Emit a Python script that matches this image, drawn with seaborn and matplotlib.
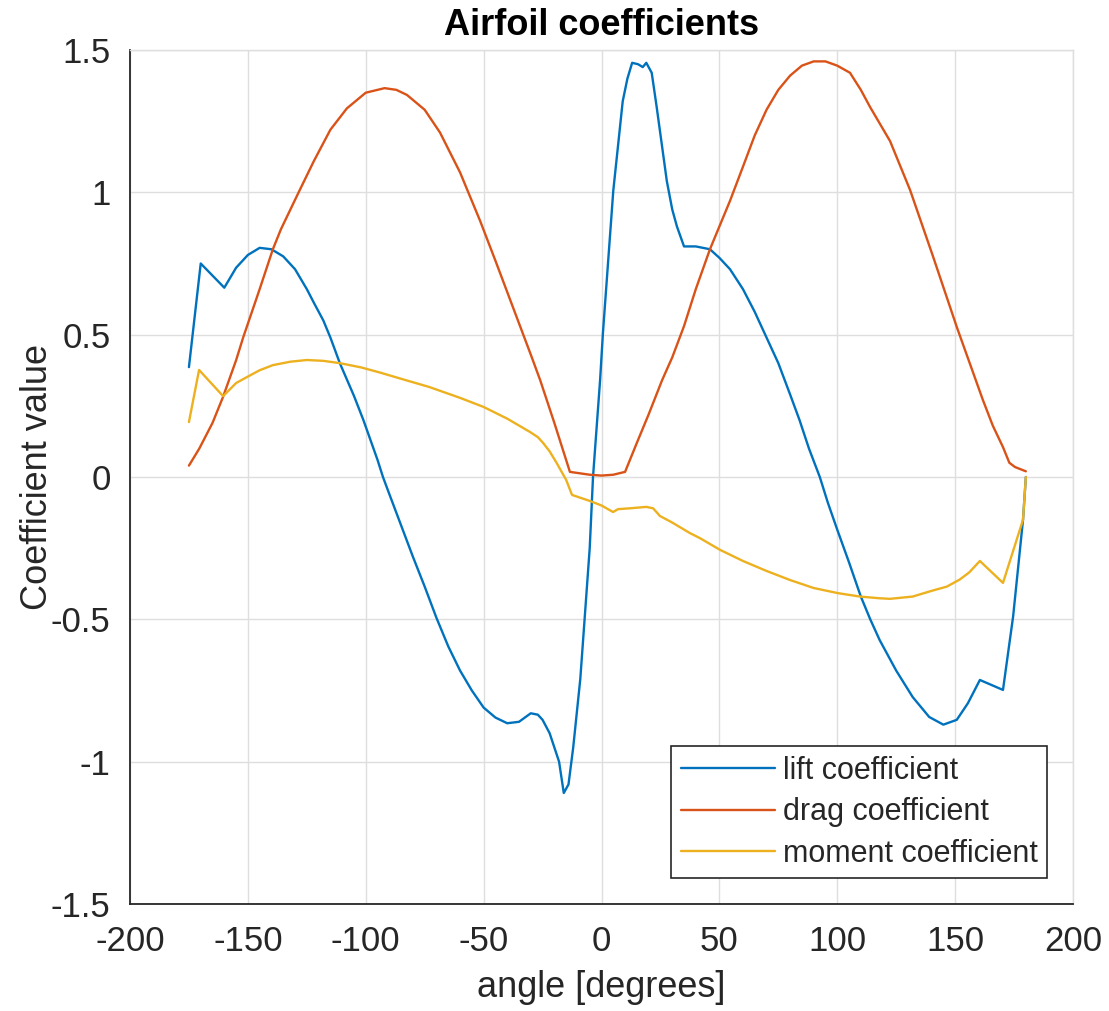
import numpy as np
import pandas as pd
import matplotlib
matplotlib.use("Agg")
import matplotlib.pyplot as plt
import seaborn as sns

# ---- data ----
lift_angle = [-175, -170, -160, -155, -150, -145, -140, -135, -130, -125, -122, -118,
              -115, -111, -105, -101, -95, -92.7, -90, -85, -80, -75, -70, -65, -60, -55,
              -50, -45, -40, -35, -30, -27, -25, -22, -18, -16, -14, -12, -9, -5, -3.6,
              -0.6, 0.6, 5, 9, 11, 13, 15.5, 17.5, 19, 21.3, 23.4, 27.7, 30, 32, 35, 40,
              46, 50, 54.5, 60, 65, 70, 75, 80, 84, 88, 92.6, 96, 100, 105, 110, 114, 118,
              125, 132, 139, 145, 150.7, 155.4, 160.5, 170.3, 174.6, 178.8, 180]
lift_coef = [0.386, 0.75, 0.665, 0.735, 0.78, 0.805, 0.80, 0.775, 0.73, 0.66, 0.612, 0.55,
             0.49, 0.40, 0.285, 0.20, 0.06, 0.0, -0.06, -0.17, -0.28, -0.385, -0.495,
             -0.595, -0.68, -0.75, -0.81, -0.845, -0.865, -0.86, -0.83, -0.835, -0.853,
             -0.90, -1.00, -1.11, -1.08, -0.95, -0.71, -0.25, 0.0, 0.34, 0.505, 1.006, 1.32,
             1.40, 1.455, 1.45, 1.44, 1.455, 1.42, 1.30, 1.04, 0.94, 0.88, 0.81, 0.81, 0.80,
             0.77, 0.73, 0.66, 0.58, 0.49, 0.40, 0.29, 0.20, 0.10, 0.0, -0.09, -0.185, -0.30,
             -0.42, -0.50, -0.573, -0.68, -0.773, -0.843, -0.87, -0.853, -0.795, -0.713,
             -0.748, -0.49, -0.15, 0.0]

drag_angle = [-175, -170.6, -165, -160.6, -155, -152, -145, -139.4, -136, -128, -122, -115,
              -108, -100, -92, -87, -82.5, -75, -68.5, -60, -51.5, -45, -40, -35, -30, -26,
              -20, -13.4, -5, 0, 5, 10, 15, 20, 25.7, 30, 35, 40, 46, 50, 54.5, 60, 65, 70,
              75, 80, 85, 90, 95, 100, 105.4, 110, 113.9, 122.4, 130.9, 140.7, 150.7, 161.8,
              166, 170.3, 173, 175.4, 180]
drag_coef = [0.04, 0.10, 0.19, 0.28, 0.41, 0.49, 0.66, 0.80, 0.87, 1.008, 1.11, 1.22,
             1.295, 1.35, 1.366, 1.36, 1.342, 1.29, 1.21, 1.07, 0.90, 0.76, 0.65, 0.54, 0.43,
             0.34, 0.19, 0.018, 0.008, 0.005, 0.008, 0.018, 0.12, 0.22, 0.34, 0.42, 0.53,
             0.66, 0.80, 0.88, 0.97, 1.09, 1.20, 1.29, 1.36, 1.41, 1.445, 1.46, 1.46, 1.445,
             1.42, 1.36, 1.30, 1.18, 1.008, 0.773, 0.527, 0.27, 0.18, 0.105, 0.05, 0.035, 0.02]

moment_angle = [-175, -170.7, -160.5, -155, -150.4, -145, -139.4, -132, -125, -118, -111,
                -102, -94, -85, -73, -60, -50, -40, -30.3, -27, -24.8, -22, -19, -15, -12.5,
                -5, 0, 4.9, 7, 12, 19, 21.9, 24.8, 30, 37.5, 41.8, 50.3, 60, 70, 80, 90,
                100.3, 109.6, 118, 122.4, 132, 140, 146.5, 152, 156, 160.5, 170.3, 178.8, 180]
moment_coef = [0.193, 0.376, 0.284, 0.33, 0.351, 0.375, 0.393, 0.405, 0.411, 0.408, 0.40,
               0.385, 0.367, 0.345, 0.316, 0.278, 0.246, 0.205, 0.158, 0.14, 0.12, 0.09,
               0.049, -0.01, -0.063, -0.084, -0.10, -0.123, -0.113, -0.11, -0.105, -0.11,
               -0.137, -0.16, -0.197, -0.215, -0.256, -0.295, -0.33, -0.362, -0.39, -0.408,
               -0.42, -0.426, -0.428, -0.42, -0.40, -0.385, -0.36, -0.335, -0.295, -0.372,
               -0.15, 0.0]

series_names = ["lift coefficient", "drag coefficient", "moment coefficient"]
series_colors = ["#0072BD", "#D95319", "#EDB120"]

x_ticks = [-200, -150, -100, -50, 0, 50, 100, 150, 200]
y_ticks = [-1.5, -1, -0.5, 0, 0.5, 1, 1.5]
y_tick_labels = ["-1.5", "-1", "-0.5", "0", "0.5", "1", "1.5"]

# ---- style ----
sns.set_style("white")
plt.rcParams['font.family'] = ['Liberation Sans', 'DejaVu Sans']
plt.rcParams['axes.unicode_minus'] = False

fig = plt.figure(figsize=(11.09, 10.11), dpi=100)
W, H = 1109, 1011
left, right, top, bottom = 130, 1073, 50, 904
ax = fig.add_axes([left / W, 1 - bottom / H, (right - left) / W, (bottom - top) / H])

frames = [
    pd.DataFrame({"angle": lift_angle, "value": lift_coef}),
    pd.DataFrame({"angle": drag_angle, "value": drag_coef}),
    pd.DataFrame({"angle": moment_angle, "value": moment_coef}),
]
for df, name, col in zip(frames, series_names, series_colors):
    sns.lineplot(data=df, x="angle", y="value", ax=ax, color=col, linewidth=1.7,
                 label=name, estimator=None, sort=False)

ax.set_xlim(-200, 200)
ax.set_ylim(-1.5, 1.5)
ax.set_xticks(x_ticks)
ax.set_xticklabels([str(v) for v in x_ticks])
ax.set_yticks(y_ticks)
ax.set_yticklabels(y_tick_labels)

grid_col = "#dedede"
ax.grid(True, color=grid_col, linewidth=1.0)
ax.set_axisbelow(True)
dark = "#262626"
for name, s in ax.spines.items():
    s.set_visible(True)
    if name in ("left", "bottom"):
        s.set_color(dark)
        s.set_linewidth(1.3)
    else:
        s.set_color(grid_col)
        s.set_linewidth(1.0)
ax.tick_params(axis="both", direction="in", length=6, width=1.0, colors=dark,
               labelsize=25, top=False, right=False, labelcolor=dark)
ax.tick_params(axis="x", pad=15)
ax.tick_params(axis="y", pad=14)

ax.set_xlabel("angle [degrees]", fontsize=26, color=dark, labelpad=9)
ax.set_ylabel("Coefficient value", fontsize=26, color=dark, labelpad=-3)
ax.set_title("Airfoil coefficients", fontsize=26, fontweight="bold", color="black", pad=11)

leg = ax.legend(loc="lower right", bbox_to_anchor=(0.9724, 0.0304), borderaxespad=0,
                fontsize=22, frameon=True, fancybox=False, framealpha=1,
                edgecolor=dark, handlelength=3.1, handletextpad=0.25,
                labelspacing=0.38, borderpad=0.3)
leg.get_frame().set_linewidth(1.2)
for t in leg.get_texts():
    t.set_color(dark)

fig.savefig("out.png", dpi=100)
